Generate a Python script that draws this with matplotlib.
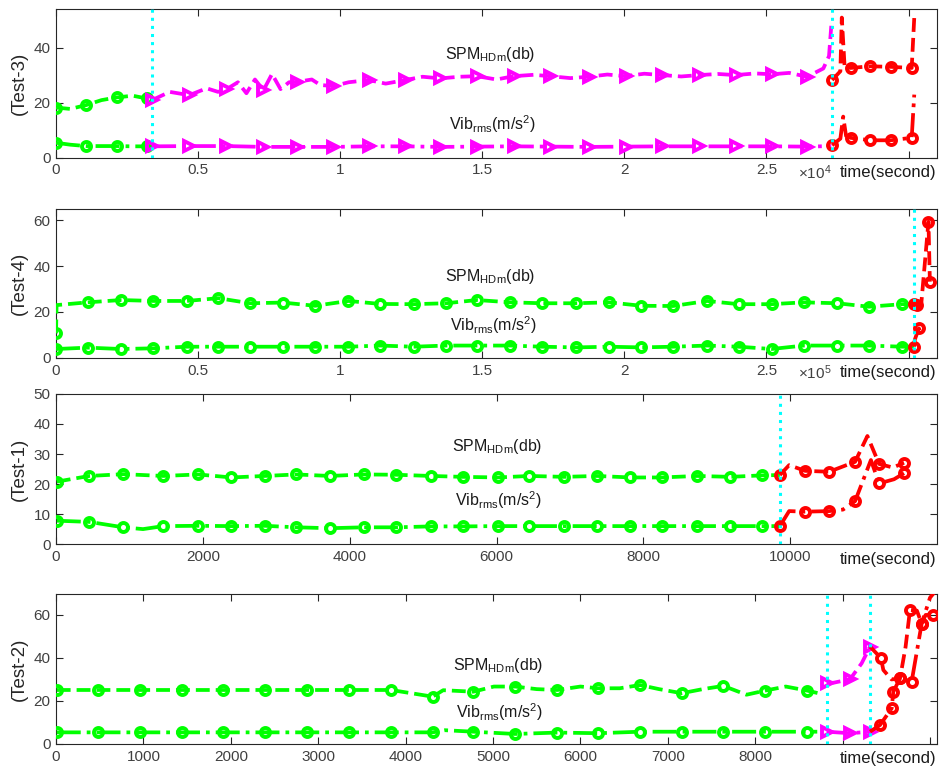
import matplotlib
matplotlib.use("Agg")
import matplotlib.pyplot as plt

plt.rcParams['font.family'] = ['Liberation Sans', 'DejaVu Sans']
plt.rcParams['mathtext.default'] = 'regular'
plt.rcParams['font.size'] = 11

# ---------------- data ----------------
# Test-3 (time in seconds)
t3_g_x = [0, 500, 1060, 1600, 2140, 2700, 3190, 3380]
t3_g_spm = [18.3, 17.8, 19.2, 21.0, 22.0, 22.6, 21.6, 21.0]
t3_g_vib = [5.5, 4.8, 4.3, 4.3, 4.3, 4.2, 4.2, 4.2]
t3_g_mk = [0, 2, 4, 6]

t3_m_spm_x = [3380, 4000, 4690, 5300, 5700, 5990, 6400, 6700, 7000, 7300, 7600, 7900, 8200, 8470,
              9000, 9300, 9760, 10300, 11000, 11600, 12290, 12900, 13520, 14200, 14810, 15500,
              16100, 16800, 17390, 18100, 18740, 19400, 20040, 20700, 21330, 22000, 22620,
              23300, 23910, 24600, 25200, 25800, 26430, 27000, 27200, 27280]
t3_m_spm = [21.0, 24.0, 22.8, 25.3, 24.0, 24.9, 27.5, 23.5, 28.5, 24.6, 30.5, 25.0, 27.5, 27.6,
            28.5, 26.5, 26.1, 27.5, 28.3, 27.0, 28.3, 29.5, 28.9, 29.5, 29.7, 28.5,
            29.7, 30.2, 29.7, 29.0, 29.5, 30.3, 29.7, 30.6, 30.1, 29.6, 30.1,
            30.5, 30.1, 30.7, 30.4, 30.9, 29.5, 32.5, 37.0, 48.0]
t3_m_spm_mk = [0, 2, 5, 9, 13, 16, 18, 20, 22, 24, 26, 28, 30, 32, 34, 36, 38, 40, 42]

t3_m_vib_x = [3380, 4690, 5990, 7300, 8470, 9760, 11000, 12290, 13520, 14810, 16100, 17390,
              18740, 20040, 21330, 22620, 23910, 25200, 26430, 27280]
t3_m_vib = [4.2, 4.3, 4.3, 4.0, 4.0, 4.0, 4.2, 4.2, 4.0, 4.1, 4.2, 4.1,
            4.0, 4.1, 4.2, 4.2, 4.2, 4.2, 4.1, 4.3]
t3_m_vib_mk = list(range(19))

t3_r_spm_x = [27310, 27600, 27650, 27750, 27960, 28660, 29370, 30110, 30200]
t3_r_spm = [28.3, 31.5, 51.0, 33.0, 32.7, 33.3, 33.1, 32.7, 51.0]
t3_r_spm_mk = [0, 4, 5, 6, 7]
t3_r_vib_x = [27310, 27600, 27700, 27800, 27960, 28660, 29370, 30110, 30200]
t3_r_vib = [4.6, 7.0, 15.0, 8.0, 7.3, 6.4, 6.4, 7.3, 23.0]
t3_r_vib_mk = [0, 4, 5, 6, 7]

# Test-4
t4_g_spm_x = [0, 200, 11200, 22900, 34300, 46000, 57100, 68300, 79800, 91200, 102900, 114100,
              125800, 137300, 148100, 159900, 171000, 183100, 194500, 206000, 217100, 229100,
              240200, 251800, 263100, 274900, 286000, 297800, 301900]
t4_g_spm = [10.7, 23.0, 24.2, 25.2, 24.8, 24.8, 26.0, 23.8, 24.1, 22.7, 24.8, 23.5,
            23.4, 23.8, 25.2, 24.2, 23.8, 23.8, 24.2, 22.7, 22.6, 24.8,
            23.4, 23.4, 24.2, 23.8, 22.3, 23.4, 23.5]
t4_g_spm_mk = [0] + list(range(2, 28))
t4_g_vib_x = [0, 11200, 22900, 34300, 46000, 57100, 68300, 79800, 91200, 102900, 114100,
              125800, 137300, 148100, 159900, 171000, 183100, 194500, 206000, 217100, 229100,
              240200, 251800, 263100, 274900, 286000, 297800, 301900]
t4_g_vib = [3.9, 4.5, 3.9, 4.2, 4.9, 4.9, 4.9, 4.9, 4.9, 4.9, 5.4, 4.9, 5.4,
            5.4, 5.4, 4.9, 4.6, 4.9, 4.6, 4.9, 5.4, 4.9, 3.9, 5.4, 5.4, 5.4, 4.9, 4.9]
t4_g_vib_mk = list(range(27))

t4_r_spm_x = [301900, 302800, 304500, 307000, 307500]
t4_r_spm = [23.5, 23.0, 24.0, 59.3, 33.2]
t4_r_vib_x = [301900, 302200, 303600, 304000]
t4_r_vib = [4.9, 8.0, 12.9, 12.0]

# Test-1
t1_g_spm_x = [10, 453, 916, 1460, 1936, 2390, 2844, 3275, 3728, 4190, 4635, 5102, 5541,
              6018, 6449, 6916, 7370, 7823, 8254, 8731, 9184, 9623, 9860]
t1_g_spm = [20.8, 22.7, 23.3, 22.7, 23.2, 22.2, 22.7, 23.2, 22.7, 23.2, 23.1, 22.7, 22.4,
            22.2, 22.7, 22.4, 22.7, 22.2, 22.2, 22.7, 22.4, 22.9, 23.0]
t1_g_spm_mk = list(range(22))
t1_g_vib_x = [10, 453, 916, 1185, 1460, 1936, 2390, 2844, 3275, 3728, 4190, 4635, 5102, 5541,
              6018, 6449, 6916, 7370, 7823, 8254, 8731, 9184, 9623, 9860]
t1_g_vib = [7.8, 7.4, 5.6, 5.0, 6.0, 6.1, 6.0, 6.1, 5.6, 5.3, 5.6, 5.6, 5.9, 5.9,
            6.0, 6.0, 6.0, 6.0, 6.0, 6.0, 6.0, 6.0, 6.0, 6.0]
t1_g_vib_mk = [0, 1, 2] + list(range(4, 23))

t1_r_spm_x = [9860, 9986, 10204, 10531, 10884, 11052, 11211, 11400, 11551]
t1_r_spm = [23.0, 26.3, 24.4, 24.1, 27.4, 36.0, 26.7, 25.5, 27.1]
t1_r_spm_mk = [0, 2, 3, 4, 6, 8]
t1_r_vib_x = [9860, 9986, 10204, 10531, 10720, 10884, 11100, 11211, 11415, 11551]
t1_r_vib = [6.0, 11.0, 10.8, 11.0, 11.5, 14.3, 28.0, 20.2, 21.6, 23.6]
t1_r_vib_mk = [0, 2, 3, 5, 7, 9]

# Test-2
t2_g_spm_x = [8, 477, 961, 1438, 1914, 2391, 2868, 3352, 3833, 4310, 4430, 4775, 5010, 5252,
              5500, 5736, 6000, 6205, 6450, 6682, 6900, 7159, 7400, 7635, 7900, 8112, 8350,
              8596, 8722]
t2_g_spm = [25.1, 25.1, 25.1, 25.1, 25.1, 25.1, 25.1, 25.1, 25.1, 22.0, 25.0, 24.3, 26.7, 26.7,
            25.5, 25.1, 26.7, 25.9, 25.9, 27.4, 25.5, 23.6, 25.5, 27.0, 22.9, 24.8, 26.7,
            24.8, 23.6]
t2_g_spm_mk = [0, 1, 2, 3, 4, 5, 6, 7, 8, 9, 11, 13, 15, 17, 19, 21, 23, 25, 27]
t2_g_vib_x = [8, 477, 961, 1438, 1914, 2391, 2868, 3352, 3833, 4310, 4450, 4775, 5252, 5736,
              6205, 6682, 7159, 7635, 8112, 8596, 8710]
t2_g_vib = [5.4, 5.4, 5.4, 5.4, 5.4, 5.4, 5.4, 5.4, 5.4, 5.4, 6.4, 5.7, 4.65, 5.3,
            5.0, 5.7, 5.7, 5.7, 5.7, 5.7, 5.7]
t2_g_vib_mk = [0, 1, 2, 3, 4, 5, 6, 7, 8, 9, 11, 12, 13, 14, 15, 16, 17, 18, 19]

t2_m_spm_x = [8818, 8900, 9085, 9218, 9314]
t2_m_spm = [28.2, 28.5, 30.1, 37.5, 45.3]
t2_m_spm_mk = [0, 2, 4]
t2_m_vib_x = [8818, 9085, 9314]
t2_m_vib = [5.7, 5.0, 5.7]

t2_r_spm_x = [9314, 9439, 9466, 9560, 9657, 9720, 9771, 9850, 9905, 9950, 10030]
t2_r_spm = [45.3, 39.9, 34.4, 30.0, 30.5, 45.0, 62.3, 62.0, 56.0, 60.0, 60.0]
t2_r_spm_mk = [1, 4, 6, 8, 10]
t2_r_vib_x = [9314, 9428, 9562, 9580, 9657, 9790, 9905, 10000, 10080]
t2_r_vib = [5.7, 8.8, 16.6, 24.3, 30.5, 29.0, 56.0, 68.0, 72.0]
t2_r_vib_mk = [1, 2, 3, 4, 5, 6]

# ---------------- styling ----------------
GREEN = '#00FF00'
MAG = '#FF00FF'
RED = '#FF0000'
CYAN = '#00FFFF'
LW = 2.7


def series(ax, x, y, color, ls, marker, mk):
    ax.plot(x, y, color=color, ls=ls, lw=LW, marker=marker, markevery=mk,
            ms=6.5 if marker == 'o' else 7, mfc='none', mec=color, mew=2.8,
            solid_capstyle='butt', dash_capstyle='butt', zorder=3)


fig = plt.figure(figsize=(9.4, 7.74), dpi=100)
L, W = 0.0596, 0.9372
axs = [fig.add_axes([L, 0.796, W, 0.193]),
       fig.add_axes([L, 0.5375, W, 0.1925]),
       fig.add_axes([L, 0.297, W, 0.194]),
       fig.add_axes([L, 0.0388, W, 0.1934])]

for ax in axs:
    ax.tick_params(direction='in', top=True, right=True, length=5, width=0.8,
                   colors='#262626', labelcolor='#404040', labelsize=11, pad=4)
    for s in ax.spines.values():
        s.set_color('#262626')
        s.set_linewidth(0.8)

YL = dict(color='#262626', labelpad=4, fontsize=13.5)
TX = dict(va='center', ha='left', color='#1a1a1a', fontsize=11.5)

# Test-3
ax = axs[0]
series(ax, t3_g_x, t3_g_spm, GREEN, '--', 'o', t3_g_mk)
series(ax, t3_g_x, t3_g_vib, GREEN, '-.', 'o', t3_g_mk)
series(ax, t3_m_spm_x, t3_m_spm, MAG, '--', '>', t3_m_spm_mk)
series(ax, t3_m_vib_x, t3_m_vib, MAG, '-.', '>', t3_m_vib_mk)
series(ax, t3_r_spm_x, t3_r_spm, RED, '--', 'o', t3_r_spm_mk)
series(ax, t3_r_vib_x, t3_r_vib, RED, '-.', 'o', t3_r_vib_mk)
for xv in [3380, 27310]:
    ax.axvline(xv, color=CYAN, ls=':', lw=2.2, zorder=4)
ax.set_xlim(0, 31000)
ax.set_ylim(0, 54.3)
ax.set_yticks([0, 20, 40])
ax.set_xticks([0, 5000, 10000, 15000, 20000, 25000, 30000])
ax.set_xticklabels(['0', '0.5', '1', '1.5', '2', '2.5', ''])
ax.set_ylabel('(Test-3)', **YL)
ax.text(13700, 37.7, 'SPM$_{HDm}$(db)', **TX)
ax.text(13840, 12.3, 'Vib$_{rms}$(m/s$^2$)', **TX)

# Test-4
ax = axs[1]
series(ax, t4_g_spm_x, t4_g_spm, GREEN, '--', 'o', t4_g_spm_mk)
series(ax, t4_g_vib_x, t4_g_vib, GREEN, '-.', 'o', t4_g_vib_mk)
series(ax, t4_r_spm_x, t4_r_spm, RED, '--', 'o', [0, 1, 3, 4])
series(ax, t4_r_vib_x, t4_r_vib, RED, '-.', 'o', [0, 2])
ax.axvline(301900, color=CYAN, ls=':', lw=2.2, zorder=4)
ax.set_xlim(0, 310000)
ax.set_ylim(0, 64.8)
ax.set_yticks([0, 20, 40, 60])
ax.set_xticks([0, 50000, 100000, 150000, 200000, 250000, 300000])
ax.set_xticklabels(['0', '0.5', '1', '1.5', '2', '2.5', ''])
ax.set_ylabel('(Test-4)', **YL)
ax.text(136800, 35.3, 'SPM$_{HDm}$(db)', **TX)
ax.text(138500, 14.3, 'Vib$_{rms}$(m/s$^2$)', **TX)

# Test-1
ax = axs[2]
series(ax, t1_g_spm_x, t1_g_spm, GREEN, '--', 'o', t1_g_spm_mk)
series(ax, t1_g_vib_x, t1_g_vib, GREEN, '-.', 'o', t1_g_vib_mk)
series(ax, t1_r_spm_x, t1_r_spm, RED, '--', 'o', t1_r_spm_mk)
series(ax, t1_r_vib_x, t1_r_vib, RED, '-.', 'o', t1_r_vib_mk)
ax.axvline(9860, color=CYAN, ls=':', lw=2.2, zorder=4)
ax.set_xlim(0, 12000)
ax.set_ylim(0, 50)
ax.set_yticks([0, 10, 20, 30, 40, 50])
ax.set_xticks([0, 2000, 4000, 6000, 8000, 10000])
ax.set_ylabel('(Test-1)', **YL)
ax.text(5400, 32.4, 'SPM$_{HDm}$(db)', **TX)
ax.text(5440, 14.7, 'Vib$_{rms}$(m/s$^2$)', **TX)

# Test-2
ax = axs[3]
series(ax, t2_g_spm_x, t2_g_spm, GREEN, '--', 'o', t2_g_spm_mk)
series(ax, t2_g_vib_x, t2_g_vib, GREEN, '-.', 'o', t2_g_vib_mk)
series(ax, t2_m_spm_x, t2_m_spm, MAG, '--', '>', t2_m_spm_mk)
series(ax, t2_m_vib_x, t2_m_vib, MAG, '-.', '>', [0, 1, 2])
series(ax, t2_r_spm_x, t2_r_spm, RED, '--', 'o', t2_r_spm_mk)
series(ax, t2_r_vib_x, t2_r_vib, RED, '-.', 'o', t2_r_vib_mk)
for xv in [8818, 9314]:
    ax.axvline(xv, color=CYAN, ls=':', lw=2.2, zorder=4)
ax.set_xlim(0, 10080)
ax.set_ylim(0, 69.6)
ax.set_yticks([0, 20, 40, 60])
ax.set_xticks(range(0, 10001, 1000))
ax.set_xticklabels([str(v) for v in range(0, 9000, 1000)] + ['', ''])
ax.set_ylabel('(Test-2)', **YL)
ax.text(4546, 36.7, 'SPM$_{HDm}$(db)', **TX)
ax.text(4577, 15.0, 'Vib$_{rms}$(m/s$^2$)', **TX)

for i, ax in enumerate(axs):
    ax.annotate('time(second)', xy=(1, 0), xycoords='axes fraction',
                xytext=(-1, -15), textcoords='offset pixels', ha='right', va='center',
                color='#1a1a1a', fontsize=12)
for ax, p in [(axs[0], '4'), (axs[1], '5')]:
    ax.annotate(r'$\times$10$^{%s}$' % p, xy=(1, 0), xycoords='axes fraction',
                xytext=(-105, -15), textcoords='offset pixels', ha='right', va='center',
                color='#404040', fontsize=11)

fig.savefig('out.png', dpi=100)
